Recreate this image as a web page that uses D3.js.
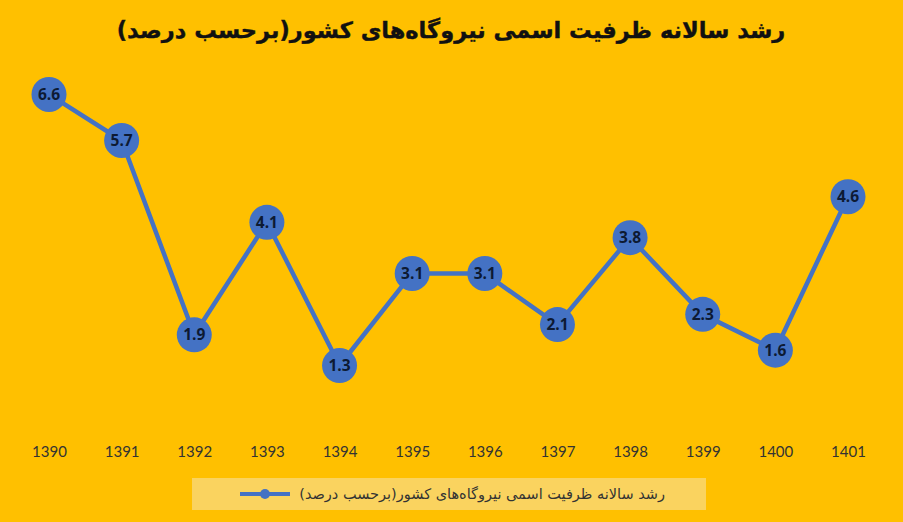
<!DOCTYPE html>
<html>
<head>
<meta charset="utf-8">
<script src="https://cdn.jsdelivr.net/npm/d3@7"></script>
<style>
  body { margin: 0; background: #FFC000; }
  svg { display: block; }
</style>
</head>
<body>
<svg id="chart" width="903" height="522"></svg>
<script>
/* Data */

var years = ["1390", "1391", "1392", "1393", "1394", "1395", "1396", "1397", "1398", "1399", "1400", "1401"];
var growth = [6.6, 5.7, 1.9, 4.1, 1.3, 3.1, 3.1, 2.1, 3.8, 2.3, 1.6, 4.6];
var chartTitle = "رشد سالانه ظرفیت اسمی نیروگاه‌های کشور(برحسب درصد)";
var seriesName = "رشد سالانه ظرفیت اسمی نیروگاه‌های کشور(برحسب درصد)";

var blue = "#4472C4";

var svg = d3.select("#chart");

svg.append("rect")
	.attr("width", 903).attr("height", 522)
	.attr("fill", "#FFC000");

// Title
svg.append("text")
	.attr("x", 451).attr("y", 38)
	.attr("text-anchor", "middle")
	.attr("direction", "rtl")
	.attr("font-family", "'DejaVu Sans', sans-serif")
	.attr("font-weight", "bold")
	.attr("font-size", 22.5)
	.attr("fill", "#111")
	.attr("stroke", "#111")
	.attr("stroke-width", 0.4)
	.text(chartTitle);

// Scales
var x = d3.scalePoint().domain(years).range([49, 848]);
var y = d3.scaleLinear().domain([0, 7]).range([432, 74]);

// Category axis, no line or ticks, just labels
var xAxis = svg.append("g")
	.attr("transform", "translate(0, 440)")
	.call(d3.axisBottom(x).tickSize(0).tickPadding(6));
xAxis.select(".domain").remove();
xAxis.selectAll("text")
	.attr("font-family", "Lato, 'Open Sans', sans-serif")
	.attr("font-size", 15)
	.attr("fill", "#333");

// Line
var line = d3.line()
	.x(function (d, i) { return x(years[i]); })
	.y(function (d) { return y(d); });

svg.append("path")
	.datum(growth)
	.attr("d", line)
	.attr("fill", "none")
	.attr("stroke", blue)
	.attr("stroke-width", 4.5)
	.attr("stroke-linejoin", "round");

// Markers with labels inside
var points = svg.selectAll("g.point")
	.data(growth)
	.enter().append("g")
	.classed("point", true)
	.attr("transform", function (d, i) {
		return "translate(" + x(years[i]) + "," + y(d) + ")";
	});

points.append("circle")
	.attr("r", 17.5)
	.attr("fill", blue);

points.append("text")
	.attr("text-anchor", "middle")
	.attr("dy", "0.36em")
	.attr("font-family", "'Open Sans', sans-serif")
	.attr("font-weight", "bold")
	.attr("font-size", 15.5)
	.attr("fill", "#0d1a33")
	.text(function (d) { return d3.format(".1f")(d); });

// Legend
var legend = svg.append("g");
legend.append("rect")
	.attr("x", 192).attr("y", 478)
	.attr("width", 514).attr("height", 32)
	.attr("fill", "#FAD35F");
legend.append("line")
	.attr("x1", 240).attr("x2", 290)
	.attr("y1", 494).attr("y2", 494)
	.attr("stroke", blue).attr("stroke-width", 4);
legend.append("circle")
	.attr("cx", 265).attr("cy", 494).attr("r", 5)
	.attr("fill", blue);
legend.append("text")
	.attr("x", 665).attr("y", 499)
	.attr("text-anchor", "start")
	.attr("direction", "rtl")
	.attr("font-family", "'DejaVu Sans', sans-serif")
	.attr("font-size", 14.5)
	.attr("fill", "#333")
	.text(seriesName);
</script>
</body>
</html>
